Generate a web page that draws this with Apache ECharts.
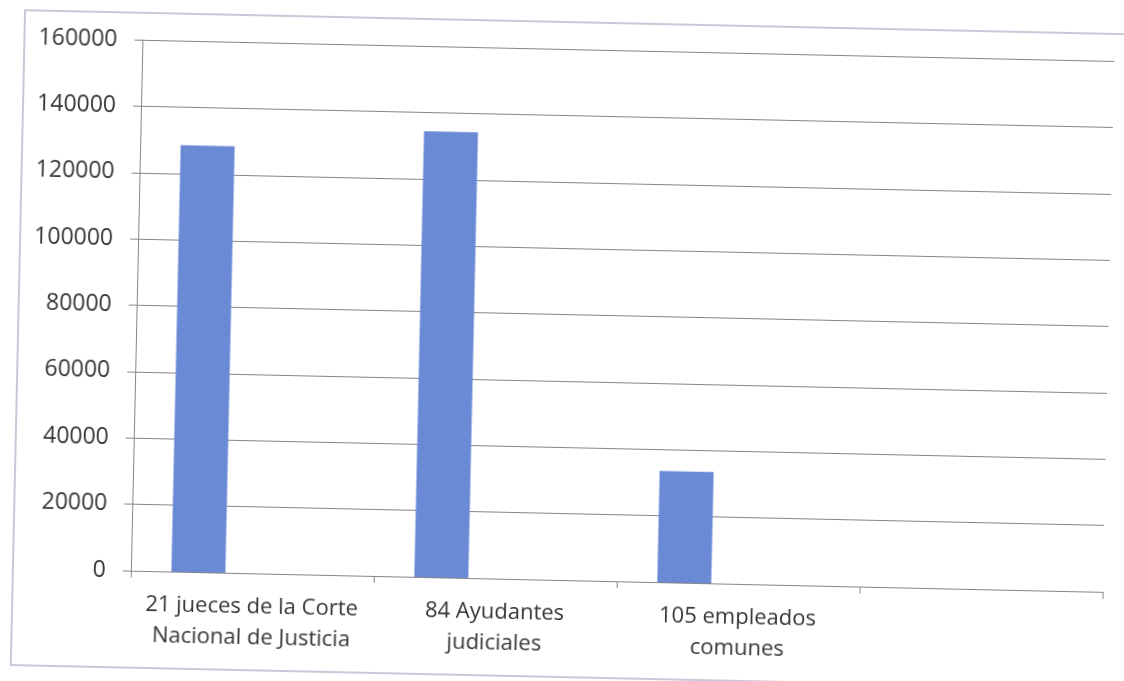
<!DOCTYPE html>
<html>
<head>
<meta charset="utf-8">
<script src="https://cdn.jsdelivr.net/npm/echarts@6/dist/echarts.min.js"></script>
<style>
  html, body { margin: 0; padding: 0; background: #ffffff; overflow: hidden; }
  #chart { width: 1124px; height: 681px; transform: rotate(1.25deg); transform-origin: 50% 50%; }
</style>
</head>
<body>
<div id="chart"></div>
<script>
// ---- data ----
const categories = [
  "21 jueces de la Corte\nNacional de Justicia",
  "84 Ayudantes\njudiciales",
  "105 empleados\ncomunes",
  ""
];
const serie1 = [128500, 134300, 33500, null];
const serie2 = [null, null, null, null];
const serie3 = [null, null, null, null];
const yMin = 0;
const yMax = 160000;
const yStep = 20000;

const chart = echarts.init(document.getElementById('chart'), null, { renderer: 'canvas' });
const gridColor = '#85858c';
const textColor = '#363636';
const fontFam = '"Open Sans", "Liberation Sans", sans-serif';

chart.setOption({
  animation: false,
  backgroundColor: '#ffffff',
  graphic: [{
    type: 'rect',
    shape: { x: 18, y: 22, width: 1200, height: 655 },
    style: { fill: 'none', stroke: '#b4b8cc', lineWidth: 1.5 },
    silent: true
  }],
  grid: { left: 136, right: 16, top: 49, bottom: 101, containLabel: false, outerBoundsMode: 'none' },
  xAxis: {
    type: 'category',
    data: categories,
    boundaryGap: true,
    axisLine: { show: true, lineStyle: { color: gridColor, width: 1 } },
    axisTick: { show: true, length: 7, lineStyle: { color: gridColor } },
    axisLabel: { color: textColor, fontSize: 22, fontFamily: fontFam, lineHeight: 31, margin: 18, interval: 0 },
    splitLine: { show: false }
  },
  yAxis: {
    type: 'value',
    min: yMin, max: yMax, interval: yStep,
    axisLine: { show: true, lineStyle: { color: gridColor, width: 1 } },
    axisTick: { show: true, length: 8, lineStyle: { color: gridColor } },
    axisLabel: { color: textColor, fontSize: 23, fontFamily: fontFam, margin: 25, formatter: function (v) { return String(v); } },
    splitLine: { show: true, lineStyle: { color: gridColor, width: 1 } }
  },
  series: [
    { name: 'Serie 1', type: 'bar', data: serie1, barWidth: 54, barGap: '0%', barCategoryGap: '0%', itemStyle: { color: '#6a8ad6' } },
    { name: 'Serie 2', type: 'bar', data: serie2, barWidth: 54, itemStyle: { color: '#c0504d' } },
    { name: 'Serie 3', type: 'bar', data: serie3, barWidth: 54, itemStyle: { color: '#9bbb59' } }
  ]
});
</script>
</body>
</html>
